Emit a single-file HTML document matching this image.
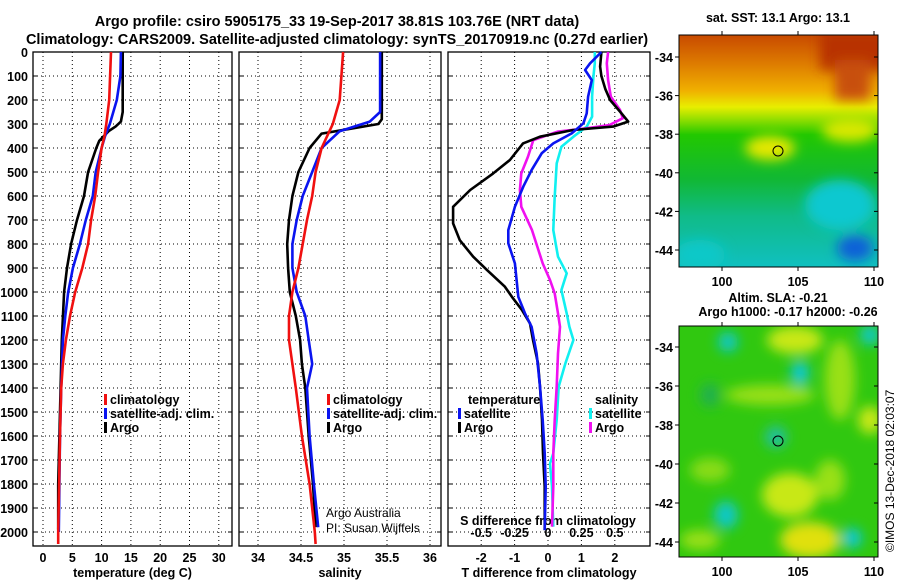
<!DOCTYPE html>
<html><head><meta charset="utf-8"><style>
body{margin:0;background:#fff;}
svg{display:block;font-family:"Liberation Sans",sans-serif;}
.b{font-weight:bold;font-size:12.5px;}
</style></head><body>
<svg id="c" width="900" height="580" viewBox="0 0 900 580">
<defs>
<linearGradient id="sst" x1="0" y1="0" x2="0" y2="1">
<stop offset="0" stop-color="#c84a00"/><stop offset="0.12" stop-color="#dd7a00"/>
<stop offset="0.24" stop-color="#f0b000"/><stop offset="0.31" stop-color="#e8ee00"/>
<stop offset="0.37" stop-color="#88dd00"/><stop offset="0.43" stop-color="#22c800"/>
<stop offset="0.62" stop-color="#11b833"/><stop offset="0.78" stop-color="#10bb88"/>
<stop offset="1" stop-color="#10c0c0"/></linearGradient>
<filter id="bl"><feGaussianBlur stdDeviation="6"/></filter>
<clipPath id="m1"><rect x="679" y="35" width="199" height="232"/></clipPath>
<clipPath id="m2"><rect x="679" y="326" width="199" height="231"/></clipPath>
</defs>
<text x="337" y="26" text-anchor="middle" font-size="14.5" font-weight="bold">Argo profile: csiro 5905175_33 19-Sep-2017 38.81S 103.76E (NRT data)</text>
<text x="337" y="44" text-anchor="middle" font-size="14.5" font-weight="bold">Climatology: CARS2009. Satellite-adjusted climatology: synTS_20170919.nc (0.27d earlier)</text>
<g id="plots"></g>
<!-- top map -->
<g clip-path="url(#m1)">
<rect x="679" y="35" width="199" height="232" fill="url(#sst)"/>
<g filter="url(#bl)">
<rect x="820" y="30" width="70" height="40" fill="#b83000"/>
<rect x="835" y="60" width="35" height="40" fill="#c85010"/>
<ellipse cx="770" cy="148" rx="25" ry="12" fill="#e6e800"/>
<ellipse cx="850" cy="130" rx="28" ry="12" fill="#d8e800"/>
<ellipse cx="840" cy="205" rx="35" ry="25" fill="#10c8d0"/>
<ellipse cx="855" cy="248" rx="18" ry="13" fill="#1060d8"/>
<ellipse cx="700" cy="255" rx="25" ry="15" fill="#10c8c8"/>
</g>
<circle cx="778" cy="151" r="5" fill="none" stroke="#000"/>
</g>
<rect x="679" y="35" width="199" height="232" fill="none" stroke="#000"/>
<text x="778" y="22" text-anchor="middle" class="b">sat. SST: 13.1 Argo: 13.1</text>
<!-- bottom map -->
<g clip-path="url(#m2)">
<rect x="679" y="326" width="199" height="231" fill="#30c810"/>
<g filter="url(#bl)">
<ellipse cx="795" cy="340" rx="28" ry="14" fill="#c8e818"/>
<ellipse cx="770" cy="395" rx="45" ry="10" fill="#99e018"/>
<ellipse cx="840" cy="380" rx="15" ry="40" fill="#99e018"/>
<ellipse cx="870" cy="420" rx="12" ry="14" fill="#c8e818"/>
<ellipse cx="790" cy="495" rx="28" ry="22" fill="#c8e818"/>
<ellipse cx="810" cy="540" rx="30" ry="18" fill="#e0e010"/>
<ellipse cx="830" cy="480" rx="15" ry="20" fill="#99e018"/>
<ellipse cx="710" cy="470" rx="20" ry="12" fill="#88dc18"/>
<ellipse cx="700" cy="540" rx="20" ry="10" fill="#99e018"/>
<ellipse cx="728" cy="342" rx="10" ry="10" fill="#10c8c8"/>
<ellipse cx="800" cy="373" rx="9" ry="12" fill="#10c8d8"/>
<ellipse cx="776" cy="437" rx="11" ry="11" fill="#20c0a0"/>
<ellipse cx="726" cy="515" rx="12" ry="14" fill="#10c8c8"/>
<ellipse cx="852" cy="538" rx="10" ry="10" fill="#10c8d8"/>
<ellipse cx="870" cy="335" rx="10" ry="10" fill="#10c8c8"/>
<ellipse cx="710" cy="395" rx="10" ry="12" fill="#22b050"/>
</g>
<circle cx="778" cy="441" r="5" fill="none" stroke="#000"/>
</g>
<rect x="679" y="326" width="199" height="231" fill="none" stroke="#000"/>
<text x="778" y="302" text-anchor="middle" class="b">Altim. SLA: -0.21</text>
<text x="788" y="316" text-anchor="middle" class="b">Argo h1000: -0.17 h2000: -0.26</text>
<text transform="translate(894,552) rotate(-90)" font-size="12">©IMOS 13-Dec-2018 02:03:07</text>
<g id="maps"></g>
</svg>
<script>
const depthTicks=[0,100,200,300,400,500,600,700,800,900,1000,1100,1200,1300,1400,1500,1600,1700,1800,1900,2000];
const tempTicks=[0,5,10,15,20,25,30];
const salTicks=[34,34.5,35,35.5,36];
const tdTicks=[-2,-1,0,1,2];
const sdTicks=[-0.5,-0.25,0,0.25,0.5];
const latTicks=[-34,-36,-38,-40,-42,-44];
const lonTicks=[100,105,110];
// temperature profiles
const tClimD=[0,200,300,350,400,500,600,700,800,900,1000,1100,1200,1300,1400,1600,2000,2050];
const tClimV=[11.6,11.3,10.8,10.5,10.0,9.4,8.9,8.2,7.7,6.7,5.5,4.6,3.9,3.4,3.1,2.9,2.6,2.6];
const tSatD=[0,100,200,300,350,400,500,600,700,800,900,1000,1100,1200,1400,1600,2000];
const tSatV=[13.3,13.2,12.6,11.4,10.6,10.0,9.0,8.5,7.3,6.3,5.1,4.3,3.8,3.4,3.1,2.9,2.7];
const tArgoD=[0,250,290,310,330,370,400,500,600,700,800,900,1000,1200,1400,1800,1990];
const tArgoV=[13.6,13.6,13.3,12.4,11.2,9.6,9.1,7.7,7.0,5.8,4.8,4.1,3.6,3.2,3.0,2.6,2.6];
// salinity profiles
const sClimD=[0,200,300,400,500,600,700,800,900,1000,1100,1200,1300,1400,1600,1800,2000,2050];
const sClimV=[34.99,34.95,34.87,34.74,34.67,34.63,34.57,34.52,34.47,34.40,34.36,34.36,34.40,34.44,34.51,34.60,34.66,34.67];
const sSatD=[0,250,290,330,400,500,600,700,800,900,1000,1100,1200,1300,1400,1600,1800,1980];
const sSatV=[35.42,35.42,35.30,34.95,34.74,34.63,34.52,34.45,34.40,34.40,34.45,34.55,34.59,34.63,34.57,34.60,34.65,34.70];
const sArgoD=[0,280,300,320,340,400,500,600,700,800,900,1000,1100,1200,1300,1400,1600,1800,1980];
const sArgoV=[35.44,35.44,35.40,35.07,34.74,34.60,34.47,34.40,34.36,34.34,34.35,34.37,34.44,34.49,34.51,34.55,34.59,34.64,34.67];
// differences from climatology
const dTArgoD=[0,61,100,155,200,256,290,311,325,353,381,450,506,575,645,714,784,853,908,978,1020,1075,1131,1200,1297,1394,1533,1672,1811,1992];
const dTArgoV=[1.6,1.56,1.6,1.72,1.86,2.2,2.4,1.95,0.75,-0.24,-0.75,-1.14,-1.64,-2.33,-2.84,-2.84,-2.64,-2.24,-1.83,-1.29,-1.08,-0.78,-0.54,-0.45,-0.3,-0.24,-0.18,-0.15,-0.1,-0.1];
const dTSatD=[0,47,75,117,186,256,297,339,381,422,492,561,645,742,797,881,950,1020,1089,1145,1256,1394,1533,1672,1811,1992];
const dTSatV=[1.6,1.26,1.11,1.31,1.2,1.16,1.06,0.71,0.16,-0.19,-0.49,-0.74,-0.99,-1.19,-1.19,-0.99,-0.94,-0.89,-0.69,-0.49,-0.34,-0.24,-0.16,-0.1,-0.07,-0.1];
const dSArgoD=[0,47,117,186,242,276,304,318,332,367,436,506,575,645,742,811,881,950,1006,1089,1145,1256,1394,1533,1672,1811,1978];
const dSArgoV=[0.45,0.44,0.45,0.47,0.54,0.56,0.46,0.29,0.07,-0.11,-0.15,-0.2,-0.21,-0.2,-0.12,-0.08,-0.04,0.015,0.05,0.075,0.09,0.075,0.065,0.05,0.04,0.04,0.03];
const dSSatD=[0,47,103,186,269,311,353,395,464,603,742,853,922,992,1089,1145,1200,1297,1394,1533,1672,1715,1811,1978];
const dSSatV=[0.35,0.35,0.34,0.33,0.33,0.29,0.19,0.1,0.065,0.05,0.04,0.075,0.14,0.1,0.14,0.16,0.19,0.13,0.08,0.065,0.04,0.015,0.03,0.04];

const NS='http://www.w3.org/2000/svg';
const G=document.getElementById('plots');
function el(tag,at,parent){const e=document.createElementNS(NS,tag);for(const k in at)e.setAttribute(k,at[k]);(parent||G).appendChild(e);return e;}
const yTop=52,yBot=546;
function yD(d){return yTop+d*0.24;}
const panels=[
 {x0:33,x1:232,f:v=>43+v*5.86,ticks:tempTicks,lab:'temperature (deg C)',name:'temperature'},
 {x0:239,x1:441,f:v=>258+(v-34)*86,ticks:salTicks,lab:'salinity',name:'salinity'},
 {x0:448,x1:650,f:v=>548+v*33.4,ticks:tdTicks,lab:'T difference from climatology',name:'difference'}
];
panels.forEach((p,i)=>{
 const g=el('g',{});
 
 
 depthTicks.forEach(d=>{
  const l=el('line',{x1:p.x0,x2:p.x1,y1:yD(d),y2:yD(d),stroke:'#000','stroke-dasharray':'1,3'},g);
  
  
  el('line',{x1:p.x0,x2:p.x0+4,y1:yD(d),y2:yD(d),stroke:'#000'},g);
  el('line',{x1:p.x1-4,x2:p.x1,y1:yD(d),y2:yD(d),stroke:'#000'},g);
  if(i===0){const t=el('text',{x:28,y:yD(d)+5,'text-anchor':'end',class:'b'},g);t.textContent=d;
   
   }
 });
 p.ticks.forEach(v=>{
  const x=p.f(v);
  const l=el('line',{x1:x,x2:x,y1:yTop,y2:yBot,stroke:'#000','stroke-dasharray':'1,3'},g);
  
  
  const t=el('text',{x:x,y:562,'text-anchor':'middle',class:'b'},g);t.textContent=v;
  
  
 });
 const r=el('rect',{x:p.x0,y:yTop,width:p.x1-p.x0,height:yBot-yTop,fill:'none',stroke:'#000','stroke-width':1.3},g);
 
 
 const t=el('text',{x:(p.x0+p.x1)/2,y:577,'text-anchor':'middle',class:'b'},g);t.textContent=p.lab;
 
 
});
sdTicks.forEach(v=>{
 const t=el('text',{x:548+v*133.6,y:537,'text-anchor':'middle',class:'b'});t.textContent=v;
 
 
});
{const t=el('text',{x:548,y:525,'text-anchor':'middle',class:'b'});t.textContent='S difference from climatology';
 
 }
function series(D,V,f,color,name){
 const pts=D.map((d,i)=>f(V[i]).toFixed(1)+','+yD(d).toFixed(1)).join(' ');
 const e=el('polyline',{points:pts,fill:'none',stroke:color,'stroke-width':2.6,'stroke-linejoin':'round'});
 
 
}
const fT=panels[0].f,fS=panels[1].f,fTD=panels[2].f,fSD=v=>548+v*133.6;
series(tArgoD,tArgoV,fT,'#000','temperature-argo-line');
series(tSatD,tSatV,fT,'#0a14f0','temperature-satellite-line');
series(tClimD,tClimV,fT,'#f01010','temperature-climatology-line');
series(sArgoD,sArgoV,fS,'#000','salinity-argo-line');
series(sSatD,sSatV,fS,'#0a14f0','salinity-satellite-line');
series(sClimD,sClimV,fS,'#f01010','salinity-climatology-line');
series(dSSatD,dSSatV,fSD,'#10f0f0','s-diff-satellite-line');
series(dSArgoD,dSArgoV,fSD,'#f010f0','s-diff-argo-line');
series(dTArgoD,dTArgoV,fTD,'#000','t-diff-argo-line');
series(dTSatD,dTSatV,fTD,'#0a14f0','t-diff-satellite-line');
function legend(x,y,color,txt){
 const g=el('g',{});
 
 
 if(color)el('rect',{x:x,y:y-10,width:3,height:11,fill:color},g);
 const t=el('text',{x:x+6,y:y,class:'b'},g);t.textContent=txt;
}
legend(104,404,'#f01010','climatology');legend(104,418,'#0a14f0','satellite-adj. clim.');legend(104,432,'#000','Argo');
legend(327,404,'#f01010','climatology');legend(327,418,'#0a14f0','satellite-adj. clim.');legend(327,432,'#000','Argo');
legend(462,404,null,'temperature');legend(458,418,'#0a14f0','satellite');legend(458,432,'#000','Argo');
legend(589,404,null,'salinity');legend(589,418,'#10f0f0','satellite');legend(589,432,'#f010f0','Argo');
{const t=el('text',{x:326,y:517,'font-size':12});t.textContent='Argo Australia';
 
 const u=el('text',{x:326,y:532,'font-size':12});u.textContent='PI: Susan Wijffels';
 }
const M=document.getElementById('maps');
[[35,267,57],[326,557,347]].forEach(([t0,b0,y34],mi)=>{
 const sc=(mi===0?19.3:19.5);
 latTicks.forEach(la=>{
  const y=y34+(-34-la)*sc;
  el('line',{x1:675,x2:679,y1:y,y2:y,stroke:'#000'},M);
  el('line',{x1:874,x2:878,y1:y,y2:y,stroke:'#000'},M);
  const t=el('text',{x:673,y:y+5,'text-anchor':'end',class:'b'},M);t.textContent=la;
  
  
 });
 lonTicks.forEach(lo=>{
  const x=722+(lo-100)*15.2;
  el('line',{x1:x,x2:x,y1:b0,y2:b0+4,stroke:'#000'},M);
  el('line',{x1:x,x2:x,y1:t0-4,y2:t0,stroke:'#000'},M);
  const t=el('text',{x:x,y:b0+19,'text-anchor':'middle',class:'b'},M);t.textContent=lo;
  
  
 });
});
</script>
</body></html>
